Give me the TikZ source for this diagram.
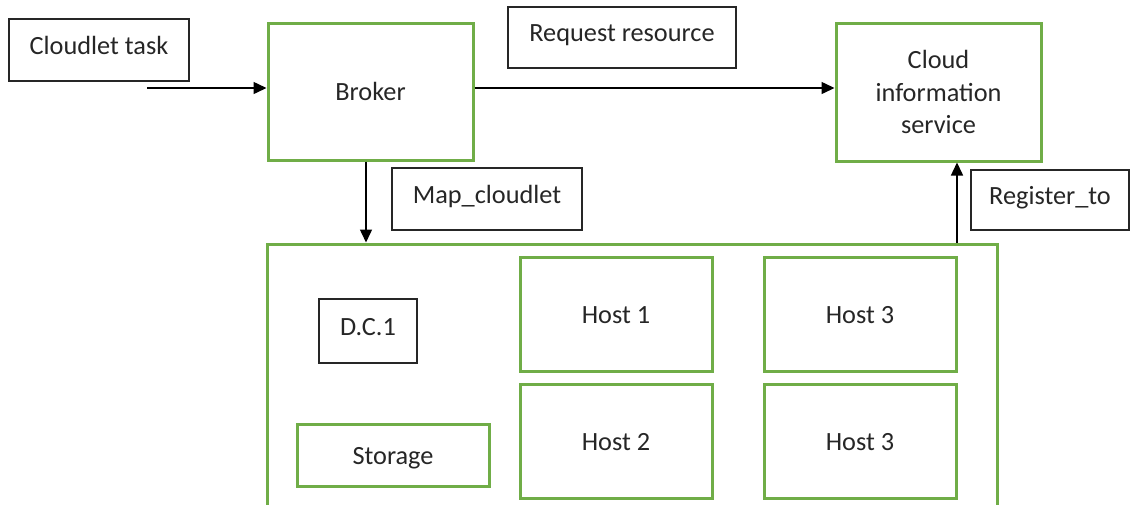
\documentclass[tikz,border=0pt]{standalone}
\usepackage{fontspec}
\setmainfont{Carlito}
\usetikzlibrary{arrows.meta}
\definecolor{boxgreen}{HTML}{70AD47}
\tikzset{
  every node/.style={font=\fontsize{26.3}{32.5}\selectfont, inner sep=0pt, text=black!85},
  gbox/.style={draw=boxgreen, line width=3pt, rectangle, text height=18pt, text depth=0pt},
  cisbox/.style={draw=boxgreen, line width=3pt, rectangle, align=center},
  lbox/.style={draw=black!85, line width=1.5pt, rectangle, text height=18pt, text depth=10pt},
  flow/.style={draw=black, line width=1.5pt, -{Triangle[length=13pt,width=12pt]}}
}
\begin{document}
\begin{tikzpicture}[x=1pt,y=-1pt]
\useasboundingbox (0,0) rectangle (1131,504);

% top row
\node[lbox, minimum width=180pt, minimum height=62pt] (task) at (99,50) {Cloudlet task};
\node[gbox, minimum width=205pt, minimum height=137pt] (broker) at (370.5,91.5) {Broker};
\node[lbox, minimum width=228pt, minimum height=61pt] (request) at (622,37.5) {Request resource};
\node[cisbox, minimum width=205pt, minimum height=138pt] (cis) at (938.5,92) {Cloud\\information\\service};

% link labels
\node[lbox, minimum width=190pt, minimum height=62pt] (map) at (487,199) {Map\_cloudlet};
\node[lbox, minimum width=158pt, minimum height=60pt] (register) at (1050,200) {Register\_to};

% data centre and its contents
\node[gbox, minimum width=730pt, minimum height=286pt] (dc) at (632,387) {};
\node[lbox, minimum width=98pt, minimum height=64pt] (dcname) at (368,331) {D.C.1};
\node[gbox, minimum width=192pt, minimum height=62pt] (storage) at (393,455) {Storage};
\node[gbox, minimum width=192pt, minimum height=114pt] (host1) at (616,314) {Host 1};
\node[gbox, minimum width=192pt, minimum height=114pt] (host2) at (616,441) {Host 2};
\node[gbox, minimum width=192pt, minimum height=114pt] (host3) at (860,314) {Host 3};
\node[gbox, minimum width=192pt, minimum height=114pt] (host3b) at (860,441) {Host 3};

% connectors
\coordinate (taskin) at (147,88);
\draw[flow] (taskin) -- (taskin -| broker.west);
\draw[flow] (taskin -| broker.east) -- (taskin -| cis.west);
\draw[flow] ([xshift=-4.5pt]broker.south) -- ([xshift=-4.5pt]broker.south |- dc.north);
\draw[flow] ([xshift=18.5pt]cis.south |- dc.north) -- ([xshift=18.5pt]cis.south);
\end{tikzpicture}
\end{document}
